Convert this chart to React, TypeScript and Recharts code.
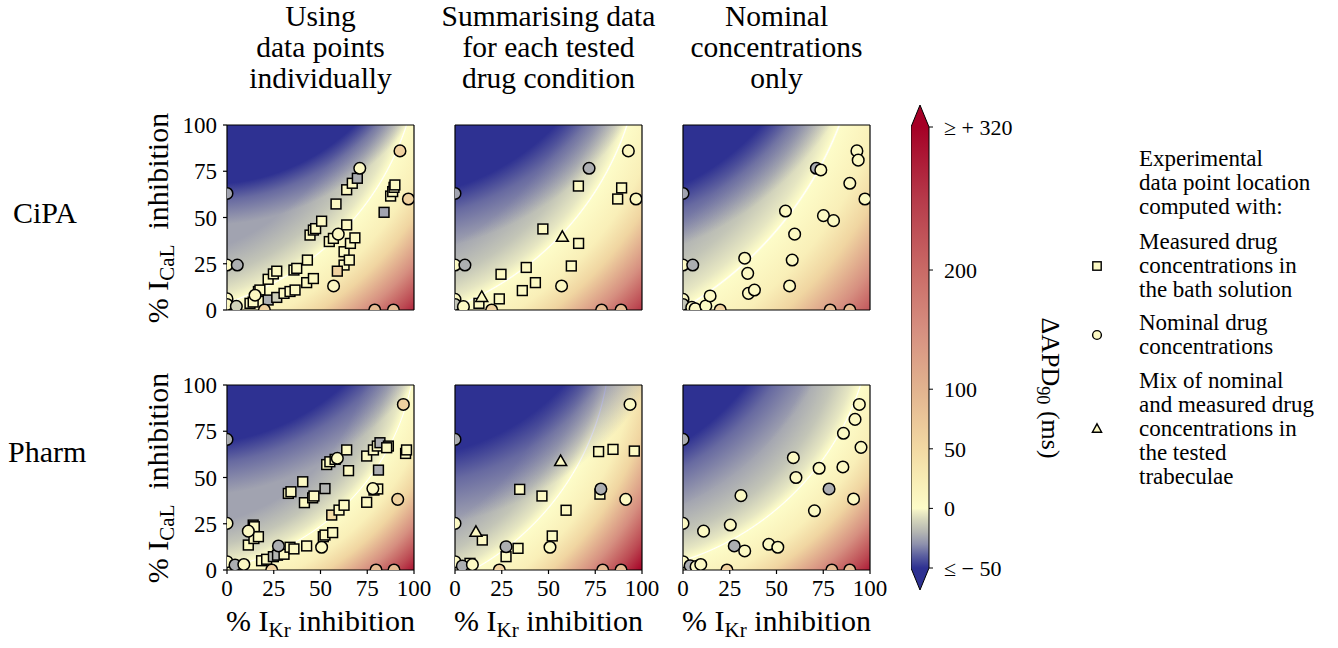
import React from "react";
import {
  ScatterChart,
  Scatter,
  XAxis,
  YAxis,
  CartesianGrid,
  ReferenceLine,
  BarChart,
  Bar,
} from "recharts";

type Pt = { x: number; y: number; apd: number };

/* ---------- data: % IKr inhibition (x), % ICaL inhibition (y), ΔAPD90 in ms ---------- */

const pctTicks = [0, 25, 50, 75, 100];
const colorbarTicks = [-50, 0, 50, 100, 200, 320];

const cipaIndivSquares: Pt[] = [
  { x: 12.3, y: 3.6, apd: 5 }, { x: 14, y: 4.3, apd: 5 }, { x: 16.8, y: 10, apd: 5 },
  { x: 17.6, y: 10.8, apd: 5 }, { x: 22, y: 16.6, apd: 5 }, { x: 24.8, y: 19.5, apd: 5 },
  { x: 26.6, y: 21, apd: 5 }, { x: 22, y: 5.4, apd: -22 }, { x: 26.6, y: 6.8, apd: -12 },
  { x: 30.5, y: 9, apd: 5 }, { x: 33.7, y: 10, apd: 5 }, { x: 36.4, y: 10.8, apd: 5 },
  { x: 35.8, y: 21.6, apd: 5 }, { x: 37.3, y: 22.5, apd: 5 }, { x: 42.6, y: 14.8, apd: 5 },
  { x: 46.2, y: 17, apd: 5 }, { x: 43, y: 27, apd: 5 }, { x: 44.4, y: 40.5, apd: 5 },
  { x: 46.2, y: 43.2, apd: 5 }, { x: 47.4, y: 44, apd: 5 }, { x: 50.6, y: 48, apd: 5 },
  { x: 58.3, y: 57.3, apd: 5 }, { x: 54.7, y: 37, apd: 5 }, { x: 56.9, y: 38.7, apd: 5 },
  { x: 64, y: 46, apd: 5 }, { x: 62.6, y: 31.5, apd: 5 }, { x: 62.6, y: 24.3, apd: 5 },
  { x: 65.4, y: 27, apd: 5 }, { x: 59, y: 21, apd: 60 }, { x: 66, y: 36, apd: 5 },
  { x: 68.4, y: 39, apd: 5 }, { x: 64, y: 65, apd: 5 }, { x: 67, y: 68.5, apd: 5 },
  { x: 69.7, y: 71.2, apd: -22 }, { x: 84, y: 52.8, apd: -25 }, { x: 87.5, y: 61.6, apd: 5 },
  { x: 88.6, y: 64, apd: 5 }, { x: 89.3, y: 66.3, apd: 5 }, { x: 89.8, y: 67.6, apd: 5 },
];
const cipaIndivCircles: Pt[] = [
  { x: 0, y: 63, apd: -25 }, { x: 0, y: 24.3, apd: 5 }, { x: 5.5, y: 24.3, apd: -22 },
  { x: 0, y: 6, apd: 5 }, { x: 0, y: 3, apd: 8 }, { x: 5, y: 2, apd: -10 },
  { x: 15, y: 8, apd: 8 }, { x: 20, y: 0, apd: 60 }, { x: 57, y: 13, apd: 8 },
  { x: 59.5, y: 41, apd: 8 }, { x: 71, y: 76.6, apd: 5 }, { x: 79, y: 0, apd: 90 },
  { x: 89, y: 0, apd: 90 }, { x: 92.5, y: 86, apd: 60 }, { x: 97, y: 60, apd: 60 },
];

const cipaSummSquares: Pt[] = [
  { x: 12.8, y: 3.6, apd: 5 }, { x: 23.7, y: 6, apd: 5 }, { x: 24.6, y: 19.3, apd: 5 },
  { x: 36, y: 10.5, apd: 5 }, { x: 38.1, y: 23, apd: 5 }, { x: 43, y: 14.8, apd: 5 },
  { x: 47, y: 43.8, apd: 5 }, { x: 62.2, y: 23.8, apd: 5 }, { x: 66.1, y: 36, apd: 5 },
  { x: 66, y: 67, apd: 5 }, { x: 87, y: 60, apd: 5 }, { x: 89.1, y: 66, apd: 5 },
];
const cipaSummCircles: Pt[] = [
  { x: 0, y: 63, apd: -25 }, { x: 0, y: 24.3, apd: 5 }, { x: 5.3, y: 24.3, apd: -22 },
  { x: 0, y: 5.8, apd: 5 }, { x: 0, y: 3, apd: -15 }, { x: 4.5, y: 1.8, apd: 5 },
  { x: 19.6, y: 0, apd: 60 }, { x: 57, y: 13, apd: 8 }, { x: 71.7, y: 76.6, apd: -22 },
  { x: 78.4, y: 0, apd: 90 }, { x: 88.8, y: 0, apd: 90 }, { x: 92.7, y: 86, apd: 10 },
  { x: 96.8, y: 60, apd: 10 },
];
const cipaSummTriangles: Pt[] = [
  { x: 14.3, y: 6.8, apd: 5 }, { x: 57.4, y: 39.3, apd: 5 },
];

const cipaNomCircles: Pt[] = [
  { x: 0, y: 63, apd: -25 }, { x: 0, y: 24.3, apd: 5 }, { x: 5.2, y: 24.3, apd: -22 },
  { x: 0, y: 5.8, apd: 5 }, { x: 0, y: 3, apd: -15 }, { x: 4.7, y: 1.4, apd: 5 },
  { x: 6.5, y: 0.7, apd: 5 }, { x: 12.2, y: 2.2, apd: 5 }, { x: 14.5, y: 7.6, apd: 5 },
  { x: 19.9, y: 0, apd: 60 }, { x: 33, y: 28, apd: 5 }, { x: 34.6, y: 19.8, apd: 5 },
  { x: 35, y: 9, apd: 5 }, { x: 38.2, y: 10.8, apd: 5 }, { x: 54.8, y: 53.5, apd: 5 },
  { x: 57, y: 13, apd: 5 }, { x: 58.4, y: 27, apd: 5 }, { x: 59.7, y: 41, apd: 5 },
  { x: 71.3, y: 76.6, apd: -22 }, { x: 73.7, y: 75.7, apd: 5 }, { x: 75.1, y: 51, apd: 5 },
  { x: 80.5, y: 48.3, apd: 5 }, { x: 78.7, y: 0, apd: 90 }, { x: 89.2, y: 0, apd: 90 },
  { x: 89.2, y: 68.5, apd: 5 }, { x: 93, y: 86, apd: 5 }, { x: 93.7, y: 81, apd: 5 },
  { x: 97.3, y: 60, apd: 5 },
];

const pharmIndivSquares: Pt[] = [
  { x: 11.4, y: 13.5, apd: 5 }, { x: 14, y: 24.3, apd: 5 }, { x: 14.6, y: 23.4, apd: 5 },
  { x: 14.4, y: 17, apd: 5 }, { x: 16.8, y: 18, apd: 5 }, { x: 18.5, y: 5, apd: 5 },
  { x: 21.2, y: 5.8, apd: 5 }, { x: 24.8, y: 7.2, apd: -18 }, { x: 27, y: 8, apd: -20 },
  { x: 30.5, y: 8.5, apd: 5 }, { x: 32.8, y: 41.4, apd: 5 }, { x: 34.2, y: 42.3, apd: 5 },
  { x: 33.7, y: 12.3, apd: 5 }, { x: 35.8, y: 11.4, apd: 5 }, { x: 40.5, y: 47.7, apd: 5 },
  { x: 41.4, y: 36.4, apd: 5 }, { x: 45.8, y: 39, apd: 5 }, { x: 46.5, y: 40, apd: 5 },
  { x: 42.6, y: 13, apd: 5 }, { x: 52.4, y: 44, apd: -20 }, { x: 51.5, y: 18, apd: 5 },
  { x: 52.4, y: 18.9, apd: 5 }, { x: 53.3, y: 57, apd: 5 }, { x: 55, y: 58.5, apd: 5 },
  { x: 57.8, y: 59.8, apd: 5 }, { x: 56.5, y: 20.2, apd: 5 }, { x: 56, y: 29.7, apd: 45 },
  { x: 59.9, y: 32.4, apd: 5 }, { x: 62.6, y: 35, apd: 5 }, { x: 64, y: 64.9, apd: 5 },
  { x: 65, y: 53.7, apd: 5 }, { x: 74.7, y: 61.6, apd: 5 }, { x: 78.3, y: 64.9, apd: 5 },
  { x: 80.4, y: 67, apd: 5 }, { x: 81.8, y: 68.8, apd: -22 }, { x: 86.3, y: 67, apd: 5 },
  { x: 85.4, y: 66.1, apd: 5 }, { x: 74.7, y: 36.6, apd: 5 }, { x: 78.6, y: 43.2, apd: 5 },
  { x: 80.6, y: 43.8, apd: 5 }, { x: 81, y: 54, apd: -22 }, { x: 95.5, y: 63, apd: 5 },
  { x: 96, y: 64.9, apd: 5 },
];
const pharmIndivCircles: Pt[] = [
  { x: 0, y: 70.6, apd: -22 }, { x: 0, y: 25.2, apd: 5 }, { x: 0, y: 4.5, apd: 5 },
  { x: 4.3, y: 2.7, apd: -22 }, { x: 9, y: 3, apd: 5 }, { x: 23.9, y: 0, apd: 60 },
  { x: 11.4, y: 21, apd: 5 }, { x: 27.5, y: 13, apd: -22 }, { x: 50.6, y: 12.3, apd: 5 },
  { x: 59, y: 60.4, apd: 5 }, { x: 78, y: 44, apd: 5 }, { x: 79.7, y: 0, apd: 90 },
  { x: 89.3, y: 0, apd: 90 }, { x: 91.3, y: 38.2, apd: 60 }, { x: 94.3, y: 89.5, apd: 60 },
];

const pharmSummSquares: Pt[] = [
  { x: 8, y: 3.6, apd: 5 }, { x: 14.6, y: 16.2, apd: 5 }, { x: 27.3, y: 7.2, apd: 5 },
  { x: 33.7, y: 11.7, apd: 5 }, { x: 34.6, y: 43.6, apd: 5 }, { x: 46.5, y: 40, apd: 5 },
  { x: 52, y: 18.4, apd: 5 }, { x: 59.4, y: 32.3, apd: 5 }, { x: 77.5, y: 41, apd: 5 },
  { x: 76.8, y: 64, apd: 5 }, { x: 84.5, y: 65.2, apd: 5 }, { x: 95.9, y: 64.3, apd: 5 },
];
const pharmSummCircles: Pt[] = [
  { x: 0, y: 70.6, apd: -22 }, { x: 0, y: 25.2, apd: 5 }, { x: 0, y: 4.5, apd: 5 },
  { x: 3.9, y: 2.2, apd: -22 }, { x: 9.3, y: 2.9, apd: 5 }, { x: 23.7, y: 0, apd: 60 },
  { x: 27.3, y: 12.6, apd: -22 }, { x: 50.8, y: 12.3, apd: 5 }, { x: 78, y: 43.8, apd: -22 },
  { x: 79, y: 0, apd: 90 }, { x: 88.8, y: 0, apd: 90 }, { x: 91.3, y: 38.2, apd: 5 },
  { x: 93.6, y: 89.5, apd: 5 },
];
const pharmSummTriangles: Pt[] = [
  { x: 11.2, y: 20.4, apd: 5 }, { x: 56.5, y: 58.6, apd: 5 },
];

const pharmNomCircles: Pt[] = [
  { x: 0, y: 70.6, apd: -22 }, { x: 0, y: 25.2, apd: 5 }, { x: 0, y: 4.5, apd: 5 },
  { x: 3.8, y: 2.3, apd: -22 }, { x: 7, y: 1.8, apd: 5 }, { x: 9.5, y: 3, apd: 5 },
  { x: 11, y: 21, apd: 5 }, { x: 23.5, y: 0, apd: 60 }, { x: 25.3, y: 24.3, apd: 5 },
  { x: 27.4, y: 13, apd: -22 }, { x: 33, y: 10.3, apd: 5 }, { x: 31, y: 40.2, apd: 5 },
  { x: 45.9, y: 13.9, apd: 5 }, { x: 50.7, y: 12.3, apd: 5 }, { x: 59, y: 60.7, apd: 5 },
  { x: 60.4, y: 50, apd: 5 }, { x: 70.3, y: 32, apd: 5 }, { x: 72.8, y: 55, apd: 5 },
  { x: 78.1, y: 43.8, apd: -22 }, { x: 79.6, y: 0, apd: 90 }, { x: 89.2, y: 0, apd: 90 },
  { x: 85.5, y: 55.7, apd: 5 }, { x: 85.8, y: 73.9, apd: 5 }, { x: 91.2, y: 38.4, apd: 5 },
  { x: 92, y: 81.4, apd: 5 }, { x: 94.3, y: 89.5, apd: 5 }, { x: 95.2, y: 66.3, apd: 5 },
];

/* ---------- colour scale ---------- */

const cmapStops: [number, string][] = [
  [-50, "#2e3192"], [-40, "#5a5e9f"], [-30, "#8e91ad"], [-20, "#b3b5b2"],
  [-10, "#d3d4bb"], [-2, "#f2f1c6"], [0, "#fdfcc8"], [25, "#f8ecb4"],
  [50, "#f2d9a3"], [100, "#e2b38f"], [150, "#d68f80"], [200, "#c96a66"],
  [260, "#b63a4a"], [320, "#a50026"],
];

function hexToRgb(h: string) {
  const n = parseInt(h.slice(1), 16);
  return [(n >> 16) & 255, (n >> 8) & 255, n & 255];
}

function cmap(v: number): string {
  const s = cmapStops;
  if (v <= s[0][0]) return s[0][1];
  if (v >= s[s.length - 1][0]) return s[s.length - 1][1];
  for (let i = 1; i < s.length; i++) {
    if (v <= s[i][0]) {
      const t = (v - s[i - 1][0]) / (s[i][0] - s[i - 1][0]);
      const a = hexToRgb(s[i - 1][1]);
      const b = hexToRgb(s[i][1]);
      return `rgb(${a.map((c, k) => Math.round(c + (b[k] - c) * t)).join(",")})`;
    }
  }
  return s[0][1];
}

// radial profile of the background field: ΔAPD value vs. relative distance from the 0 ms contour
const fieldProfile: [number, number][] = [
  [-25, -0.2], [-15, -0.1], [-5, -0.035], [0, 0], [20, 0.1],
  [55, 0.17], [150, 0.27], [240, 0.35], [320, 0.42],
];
const FIELD_SCALE = 1.42;

type Field = { cx: number; cy: number; r0: number };
type Cap = { cx: number; cy: number; r: number; fade: number };

const SERIF = "Liberation Serif";
const tickStyle = { fontSize: 23, fill: "#000", fontFamily: SERIF };

const PW = 187;
const PH = 185;
const ML = 50;
const MT = 20;
const MR = 25;
const XH = 40;

function marker(kind: "square" | "circle" | "triangle") {
  return (props: any) => {
    const { cx, cy, payload } = props;
    if (cx == null || cy == null) return <g />;
    const fill = cmap(payload.apd);
    if (kind === "square")
      return <rect x={cx - 4.9} y={cy - 4.9} width={9.8} height={9.8} fill={fill} stroke="#000" strokeWidth={1.5} />;
    if (kind === "triangle")
      return (
        <path
          d={`M${cx},${cy - 6.5} L${cx + 6},${cy + 4} L${cx - 6},${cy + 4} Z`}
          fill={fill}
          stroke="#000"
          strokeWidth={1.5}
        />
      );
    return <circle cx={cx} cy={cy} r={5.8} fill={fill} stroke="#000" strokeWidth={1.5} />;
  };
}

const squareShape = marker("square");
const circleShape = marker("circle");
const triangleShape = marker("triangle");

function Panel({
  id, left, top, squares, circles, triangles, field, cap, showX, showY,
}: {
  id: string; left: number; top: number; squares: Pt[]; circles: Pt[]; triangles: Pt[];
  field: Field; cap: Cap; showX: boolean; showY: boolean;
}) {
  const R = field.r0 * FIELD_SCALE;
  const off = (rel: number) => (1 + rel) / FIELD_SCALE;
  const capR = cap.r + cap.fade;
  const blue = cmap(-50);
  return (
    <div style={{ position: "absolute", left: left - ML, top: top - MT }}>
      <ScatterChart width={ML + PW + MR} height={MT + PH + XH} margin={{ top: MT, right: MR, bottom: 0, left: 0 }}>
        <defs>
          <radialGradient id={`field-${id}`} cx={field.cx} cy={field.cy} r={R} gradientUnits="objectBoundingBox">
            {fieldProfile.map(([v, rel]) =>
              v === 0 ? (
                <React.Fragment key={v}>
                  <stop offset={off(-0.004)} stopColor={cmap(0)} />
                  <stop offset={off(0)} stopColor="#ffffff" />
                  <stop offset={off(0.004)} stopColor={cmap(0)} />
                </React.Fragment>
              ) : (
                <stop key={v} offset={off(rel)} stopColor={cmap(v)} />
              )
            )}
          </radialGradient>
          <radialGradient id={`cap-${id}`} cx={cap.cx} cy={cap.cy} r={capR} gradientUnits="objectBoundingBox">
            <stop offset={0} stopColor={blue} stopOpacity={1} />
            <stop offset={cap.r / capR} stopColor={blue} stopOpacity={1} />
            <stop offset={(cap.r + 0.4 * cap.fade) / capR} stopColor={blue} stopOpacity={0.5} />
            <stop offset={1} stopColor={blue} stopOpacity={0} />
          </radialGradient>
        </defs>
        <CartesianGrid horizontal={false} vertical={false} fill={`url(#field-${id})`} fillOpacity={1} />
        <CartesianGrid horizontal={false} vertical={false} fill={`url(#cap-${id})`} fillOpacity={1} />
        <XAxis
          type="number"
          dataKey="x"
          domain={[0, 100]}
          ticks={pctTicks}
          interval={0}
          allowDataOverflow
          height={XH}
          tick={showX ? tickStyle : false}
          tickSize={4}
          tickMargin={6}
          axisLine={{ stroke: "#000", strokeWidth: 1.2 }}
          tickLine={{ stroke: "#000", strokeWidth: 1.2 }}
        />
        <YAxis
          type="number"
          dataKey="y"
          domain={[0, 100]}
          ticks={pctTicks}
          interval={0}
          allowDataOverflow
          width={ML}
          tick={showY ? tickStyle : false}
          tickSize={4}
          tickMargin={6}
          axisLine={{ stroke: "#000", strokeWidth: 1.2 }}
          tickLine={{ stroke: "#000", strokeWidth: 1.2 }}
        />
        <Scatter data={squares} shape={squareShape} isAnimationActive={false} />
        <Scatter data={circles} shape={circleShape} isAnimationActive={false} />
        <Scatter data={triangles} shape={triangleShape} isAnimationActive={false} />
        <ReferenceLine y={100} stroke="#000" strokeWidth={1.2} />
        <ReferenceLine x={100} stroke="#000" strokeWidth={1.2} />
      </ScatterChart>
    </div>
  );
}

const colLefts = [227, 455, 683];
const rowTops = [125, 385];

const panels = [
  { id: "ci", col: 0, row: 0, squares: cipaIndivSquares, circles: cipaIndivCircles, triangles: [],
    field: { cx: -0.45, cy: -0.45, r0: 1.48 }, cap: { cx: -0.1, cy: -0.8, r: 1.12, fade: 0.22 } },
  { id: "cs", col: 1, row: 0, squares: cipaSummSquares, circles: cipaSummCircles, triangles: cipaSummTriangles,
    field: { cx: -0.6, cy: -0.5, r0: 1.6 }, cap: { cx: -0.4, cy: -0.9, r: 1.3, fade: 0.3 } },
  { id: "cn", col: 2, row: 0, squares: [], circles: cipaNomCircles, triangles: [],
    field: { cx: -1.0, cy: -0.7, r0: 1.965 }, cap: { cx: -0.6, cy: -0.9, r: 1.36, fade: 0.3 } },
  { id: "pi", col: 0, row: 1, squares: pharmIndivSquares, circles: pharmIndivCircles, triangles: [],
    field: { cx: -0.25, cy: -0.25, r0: 1.26 }, cap: { cx: -0.2, cy: -0.9, r: 1.22, fade: 0.28 } },
  { id: "ps", col: 1, row: 1, squares: pharmSummSquares, circles: pharmSummCircles, triangles: pharmSummTriangles,
    field: { cx: -0.6, cy: -0.25, r0: 1.43 }, cap: { cx: -0.3, cy: -0.8, r: 1.19, fade: 0.38 } },
  { id: "pn", col: 2, row: 1, squares: [], circles: pharmNomCircles, triangles: [],
    field: { cx: -0.45, cy: -0.45, r0: 1.47 }, cap: { cx: -0.7, cy: -0.8, r: 1.31, fade: 0.3 } },
];

/* ---------- colour bar ---------- */

const colorbarData = [{ name: "ΔAPD90", span: [-50, 320] }];
const CB_MIN = -50;
const CB_MAX = 320;

function ColorbarShape(props: any) {
  const { x, y, width, height } = props;
  const top = Math.min(y, y + height);
  const h = Math.abs(height);
  const tri = 22;
  const outline = `M${x},${top} L${x + width / 2},${top - tri} L${x + width},${top} L${x + width},${top + h} L${x + width / 2},${top + h + tri} L${x},${top + h} Z`;
  return (
    <g>
      <rect x={x} y={top} width={width} height={h} fill="url(#cb-grad)" />
      <path d={`M${x},${top} L${x + width / 2},${top - tri} L${x + width},${top} Z`} fill={cmap(CB_MAX)} />
      <path d={`M${x},${top + h} L${x + width / 2},${top + h + tri} L${x + width},${top + h} Z`} fill={cmap(CB_MIN)} />
      <path d={outline} fill="none" stroke="#000" strokeWidth={1} />
    </g>
  );
}

function cbLabel(v: number) {
  if (v === CB_MAX) return "≥ + 320";
  if (v === CB_MIN) return "≤ − 50";
  return String(v);
}

function Colorbar() {
  const zeroOff = (CB_MAX - 0) / (CB_MAX - CB_MIN);
  return (
    <div style={{ position: "absolute", left: 911, top: 102 }}>
      <BarChart width={118} height={491} data={colorbarData} margin={{ top: 25, right: 0, bottom: 25, left: 0 }} barCategoryGap={0}>
        <defs>
          <linearGradient id="cb-grad" x1="0" y1="0" x2="0" y2="1">
            {cmapStops
              .slice()
              .reverse()
              .map(([v, c]) => (
                <stop key={v} offset={(CB_MAX - v) / (CB_MAX - CB_MIN)} stopColor={c} />
              ))}
            <stop offset={zeroOff - 0.003} stopColor={cmap(0)} />
            <stop offset={zeroOff} stopColor="#ffffff" />
            <stop offset={zeroOff + 0.003} stopColor={cmap(-1)} />
          </linearGradient>
        </defs>
        <XAxis dataKey="name" hide />
        <YAxis
          orientation="right"
          type="number"
          domain={[CB_MIN, CB_MAX]}
          ticks={colorbarTicks}
          interval={0}
          width={100}
          axisLine={false}
          tickSize={4}
          tickMargin={11}
          tickLine={{ stroke: "#000" }}
          tick={{ fontSize: 22, fill: "#000", fontFamily: SERIF }}
          tickFormatter={cbLabel}
        />
        <Bar dataKey="span" shape={ColorbarShape} isAnimationActive={false} />
      </BarChart>
    </div>
  );
}

/* ---------- text ---------- */

const sub = { fontSize: "0.7em", verticalAlign: "-0.28em", lineHeight: 0 } as const;

const colTitles = [
  ["Using", "data points", "individually"],
  ["Summarising data", "for each tested", "drug condition"],
  ["Nominal", "concentrations", "only"],
];

const legendGroups = [
  { top: 147, lines: ["Experimental", "data point location", "computed with:"], mark: null, markLine: 0 },
  { top: 230, lines: ["Measured drug", "concentrations in", "the bath solution"], mark: "square", markLine: 1 },
  { top: 311, lines: ["Nominal drug", "concentrations"], mark: "circle", markLine: 0.5 },
  { top: 369, lines: ["Mix of nominal", "and measured drug", "concentrations in", "the tested", "trabeculae"], mark: "triangle", markLine: 2 },
];

function LegendMark({ kind, cx, cy }: { kind: string; cx: number; cy: number }) {
  const fill = cmap(5);
  return (
    <svg style={{ position: "absolute", left: cx - 8, top: cy - 8 }} width={16} height={16}>
      {kind === "square" && <rect x={3.8} y={3.8} width={8.4} height={8.4} fill={fill} stroke="#000" strokeWidth={1.4} />}
      {kind === "circle" && <circle cx={8} cy={8} r={4.4} fill={fill} stroke="#000" strokeWidth={1.4} />}
      {kind === "triangle" && <path d="M8,2.8 L12.6,11.2 L3.4,11.2 Z" fill={fill} stroke="#000" strokeWidth={1.4} />}
    </svg>
  );
}

export default function App() {
  const text = { position: "absolute" as const, fontFamily: SERIF, color: "#000", whiteSpace: "nowrap" as const };
  return (
    <div style={{ position: "absolute", left: 0, top: 0, width: 1338, height: 648, background: "#fff", fontFamily: SERIF, overflow: "hidden" }}>
      {colTitles.map((lines, i) => (
        <div key={i} style={{ ...text, left: colLefts[i] + PW / 2 - 150, top: 1, width: 300, textAlign: "center", fontSize: 29.5, lineHeight: "31px" }}>
          {lines.map((l) => (
            <div key={l}>{l}</div>
          ))}
        </div>
      ))}

      <div style={{ ...text, left: 13, top: 197, fontSize: 30, lineHeight: "32px" }}>CiPA</div>
      <div style={{ ...text, left: 8, top: 436, fontSize: 30, lineHeight: "32px" }}>Pharm</div>

      {rowTops.map((t) => (
        <div key={t} style={{ ...text, left: 158 - 150, top: t + PH / 2 - 16, width: 300, height: 32, textAlign: "center", fontSize: 30, lineHeight: "32px", transform: "rotate(-90deg)" }}>
          % I<span style={sub}>CaL</span>&nbsp; inhibition
        </div>
      ))}

      {colLefts.map((l) => (
        <div key={l} style={{ ...text, left: l + PW / 2 - 150, top: 605, width: 300, textAlign: "center", fontSize: 30, lineHeight: "32px" }}>
          % I<span style={sub}>Kr</span> inhibition
        </div>
      ))}

      {panels.map((p) => (
        <Panel
          key={p.id}
          id={p.id}
          left={colLefts[p.col]}
          top={rowTops[p.row]}
          squares={p.squares}
          circles={p.circles}
          triangles={p.triangles}
          field={p.field}
          cap={p.cap}
          showX={p.row === 1}
          showY={p.col === 0}
        />
      ))}

      <Colorbar />

      <div style={{ ...text, left: 1050 - 120, top: 388 - 16, width: 240, height: 32, textAlign: "center", fontSize: 26, lineHeight: "32px", transform: "rotate(90deg)" }}>
        ΔAPD<span style={sub}>90</span> (ms)
      </div>

      {legendGroups.map((g) => (
        <React.Fragment key={g.top}>
          <div style={{ ...text, left: 1139, top: g.top, fontSize: 23, lineHeight: "24px" }}>
            {g.lines.map((l) => (
              <div key={l}>{l}</div>
            ))}
          </div>
          {g.mark && <LegendMark kind={g.mark} cx={1097} cy={g.top + 12 + g.markLine * 24} />}
        </React.Fragment>
      ))}
    </div>
  );
}
